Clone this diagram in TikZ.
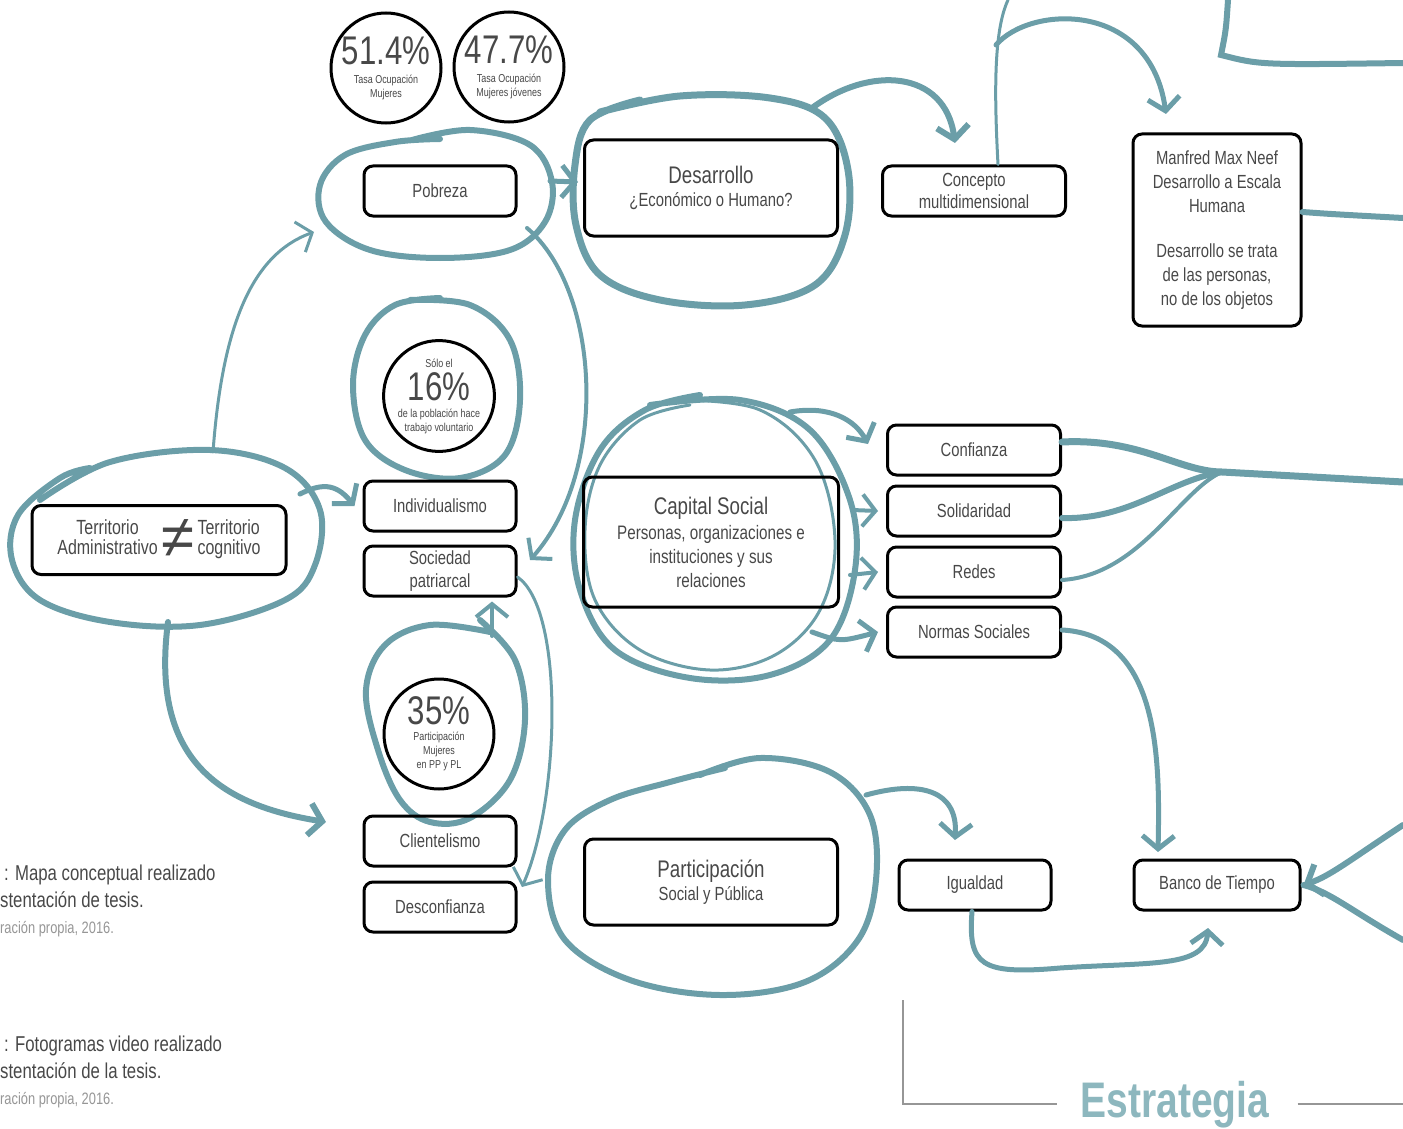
\documentclass[tikz,border=0pt]{standalone}
\usepackage{fontspec}
\setmainfont{Liberation Sans}[FakeStretch=0.78]
\newfontfamily\symfont{Liberation Sans}
\definecolor{mapteal}{RGB}{107,158,168}
\definecolor{mapstrat}{RGB}{141,183,190}
\definecolor{maptext}{RGB}{72,72,72}
\definecolor{mapgray}{RGB}{150,150,150}
\usetikzlibrary{arrows.meta,positioning}
\newcommand\bignum[1]{{\fontsize{40}{42}\selectfont #1}}
\newcommand\boxtitle[1]{{\fontsize{24}{28}\selectfont #1}}

\begin{document}
\begin{tikzpicture}[x=1pt,y=-1pt,
  box/.style={draw=black, line width=3pt, rounded corners=9pt, minimum width=152pt, minimum height=50pt, align=center, text=maptext, font=\fontsize{19}{23}\selectfont, inner sep=1pt},
  bigbox/.style={box, minimum width=253pt, minimum height=96pt},
  stat/.style={draw=black, circle, line width=3pt, minimum size=110pt, inner sep=0pt, align=center, text=maptext, font=\fontsize{11.5}{14}\selectfont},
  loop/.style={draw=mapteal, line width=6pt, line cap=round, line join=round},
  stroke/.style={draw=mapteal, line width=5pt, line cap=round},
  link/.style={stroke, -{Straight Barb[length=13pt,width=32pt]}},
  caption/.style={anchor=base west, text=maptext, font=\fontsize{21.5}{25}\selectfont, inner sep=0pt},
  source/.style={anchor=base west, text=mapgray, font=\fontsize{16.5}{19}\selectfont, inner sep=0pt}]
  \useasboundingbox (0,0) rectangle (1403,1129);

  % Hand drawn loops
  \draw[loop] plot[smooth, tension=0.6] coordinates {(412,140) (470,130) (530,145) (552,182) (545,222) (510,250) (440,258) (370,250) (326,222) (320,185) (345,155) (395,142) (440,139)};
  \draw[loop, line width=7pt] plot[smooth, tension=0.6] coordinates {(600,112) (680,96) (770,98) (825,118) (848,170) (845,235) (815,285) (745,305) (660,300) (600,275) (576,225) (575,165) (590,120) (640,100)};
  \draw[loop] plot[smooth, tension=0.6] coordinates {(40,500) (110,462) (210,450) (285,468) (320,510) (315,565) (285,600) (200,625) (110,622) (40,600) (12,560) (18,515) (60,478) (90,468)};
  \draw[loop] plot[smooth, tension=0.6] coordinates {(410,300) (470,305) (510,340) (520,400) (505,455) (460,478) (405,470) (365,440) (353,385) (365,335) (395,305) (440,298)};
  \draw[loop] plot[smooth, tension=0.6] coordinates {(480,620) (515,660) (525,720) (510,780) (470,818) (430,822) (400,800) (378,750) (366,690) (385,645) (430,625) (490,632)};
  \draw[loop] plot[smooth, tension=0.6] coordinates {(650,405) (740,400) (810,430) (850,500) (855,570) (830,640) (770,675) (690,678) (615,650) (580,590) (575,520) (600,450) (645,410) (700,395)};
  \draw[loop, line width=3pt] plot[smooth, tension=0.6] coordinates {(680,400) (760,410) (815,460) (835,540) (820,610) (775,655) (710,670) (640,650) (595,600) (585,530) (600,465) (640,420) (690,405)};
  \draw[loop] plot[smooth, tension=0.6] coordinates {(700,775) (760,758) (830,772) (870,815) (876,880) (858,940) (805,982) (720,995) (630,980) (565,940) (548,880) (565,830) (610,800) (670,782) (725,768)};

  % Statistics
  \node[stat] (ocupa) at (386,68) {\bignum{51.4\%}\\[5pt]Tasa Ocupación\\Mujeres};
  \node[stat] (jovenes) at (509,67) {\bignum{47.7\%}\\[5pt]Tasa Ocupación\\Mujeres jóvenes};
  \node[stat] (voluntario) at (439,396) {Sólo el\\[4pt]\bignum{16\%}\\[3pt]de la población hace\\trabajo voluntario};
  \node[stat] (participa) at (439,734) {\bignum{35\%}\\[2pt]Participación\\Mujeres\\en PP y PL};

  % Boxes
  \node[box] (pobreza) at (440,191) {Pobreza};
  \node[bigbox] (desarrollo) at (711,188) {\boxtitle{Desarrollo}\\¿Económico o Humano?};
  \node[box, minimum width=183pt, font=\fontsize{19}{22}\selectfont] (concepto) at (974,191) {Concepto\\multidimensional};
  \node[box, minimum width=168pt, minimum height=192pt, font=\fontsize{19}{24}\selectfont] (maxneef) at (1217,230) {Manfred Max Neef\\Desarrollo a Escala\\Humana\\[21pt]Desarrollo se trata\\de las personas,\\no de los objetos};
  \node[box, minimum width=254pt, minimum height=69pt, font=\fontsize{20.5}{18}\selectfont] (territorio) at (159,540) {\begin{tabular}{@{}c@{}}Territorio\\Administrativo\end{tabular}\,\smash{\raisebox{-12pt}{\symfont\fontsize{60}{60}\selectfont ≠}}\,\begin{tabular}{@{}l@{}}Territorio\\cognitivo\end{tabular}};
  \node[box] (individualismo) at (440,506) {Individualismo};
  \node[box] (sociedad) at (440,571) {Sociedad\\patriarcal};
  \node[bigbox, minimum width=255pt, minimum height=130pt, font=\fontsize{19.5}{24}\selectfont] (capital) at (711,542) {\raisebox{-4pt}[\height][\depth]{\begin{tabular}{@{}c@{}}\boxtitle{Capital Social}\\[1pt]Personas, organizaciones e\\instituciones y sus\\relaciones\end{tabular}}};
  \node[box, minimum width=173pt] (confianza) at (974,450) {Confianza};
  \node[box, minimum width=173pt] (solidaridad) at (974,511) {Solidaridad};
  \node[box, minimum width=173pt] (redes) at (974,572) {Redes};
  \node[box, minimum width=173pt] (normas) at (974,632) {Normas Sociales};
  \node[box] (clientelismo) at (440,841) {Clientelismo};
  \node[box] (desconfianza) at (440,907) {Desconfianza};
  \node[bigbox, minimum height=86pt] (participacion) at (711,882) {\boxtitle{Participación}\\Social y Pública};
  \node[box] (igualdad) at (975,885) {Igualdad};
  \node[box, minimum width=166pt] (banco) at (1217,885) {Banco de Tiempo};

  % Points on the loops
  \coordinate (terrN) at (213,452);
  \coordinate (terrE) at (300,494);
  \coordinate (terrS) at (168,622);
  \coordinate (pobW) at (314,232);
  \coordinate (pobSE) at (527,228);
  \coordinate (pobE) at (550,181);
  \coordinate (desW) at (578,182);
  \coordinate (desNE) at (812,108);
  \coordinate (conN) at (955,143);
  \coordinate (topA) at (996,45);
  \coordinate (mnN) at (1166,114);
  \coordinate (hub) at (1222,472);
  \coordinate (capN) at (790,412);
  \coordinate (capE) at (852,510);
  \coordinate (capE2) at (850,575);
  \coordinate (capSE) at (812,632);
  \coordinate (cliW) at (326,822);
  \coordinate (socE) at (530,560);
  \coordinate (desconE) at (522,887);
  \coordinate (c35N) at (492,636);
  \coordinate (parNE) at (866,795);
  \coordinate (igN) at (955,840);
  \coordinate (bancoN) at (1158,852);
  \coordinate (bancoS) at (1208,928);

  % Connectors
  \draw[link, line width=3pt] (terrN) .. controls (222,330) and (250,255) .. (pobW);
  \draw[link] (terrE) .. controls (320,484) and (335,482) .. ([xshift=-8pt]individualismo.west);
  \draw[link, line width=6pt] (terrS) .. controls (150,760) and (220,805) .. (cliW);
  \draw[link, line width=4pt] (pobSE) .. controls (600,290) and (610,470) .. (socE);
  \draw[link] (pobE) -- (desW);
  \draw[link, line width=6pt] (desNE) .. controls (870,65) and (945,70) .. (conN);
  \draw[stroke, line width=3pt] ([xshift=24pt]concepto.north) .. controls (994,90) and (994,30) .. (1008,0);
  \draw[link] (topA) .. controls (1030,5) and (1150,0) .. (mnN);
  \draw[stroke, line width=6pt] (1228,0) .. controls (1226,30) .. (1221,55) .. controls (1260,65) .. (1403,63);
  \draw[stroke, line width=6pt] ([yshift=18pt]maxneef.east) .. controls (1330,214) .. (1403,218);
  \draw[stroke, line width=7pt] ([yshift=8pt]confianza.east) .. controls (1140,438) and (1180,472) .. (hub) -- (1403,482);
  \draw[stroke, line width=6pt] ([yshift=-7pt]solidaridad.east) .. controls (1130,520) and (1170,480) .. (hub);
  \draw[stroke, line width=4pt] ([yshift=-8pt]redes.east) .. controls (1140,575) and (1180,490) .. (hub);
  \draw[link] ([yshift=2pt]normas.east) .. controls (1160,635) and (1160,760) .. (bancoN);
  \draw[link, line width=6pt] (1403,825) .. controls (1350,860) and (1330,876) .. ([xshift=2pt]banco.east);
  \draw[stroke, line width=6pt] (1403,940) .. controls (1350,910) and (1330,892) .. ([xshift=2pt]banco.east);
  \draw[link] ([xshift=-3pt]igualdad.south) .. controls (968,965) and (980,975) .. (1060,968) .. controls (1150,962) and (1205,968) .. (bancoS);
  \draw[link] (parNE) .. controls (920,780) and (958,790) .. (igN);
  \draw[link, line width=4pt] (c35N) -- ([xshift=52pt,yshift=-4pt]sociedad.south);
  \draw[link, line width=3pt] ([yshift=-6pt]sociedad.east) .. controls (565,610) and (560,800) .. (desconE);
  \draw[link] (capN) .. controls (830,405) and (855,420) .. ([xshift=-18pt,yshift=6pt]confianza.west);
  \draw[link, line width=4pt] (capE) -- ([xshift=-8pt]solidaridad.west);
  \draw[link, line width=4pt] (capE2) -- ([xshift=-8pt]redes.west);
  \draw[link] (capSE) .. controls (840,642) .. ([xshift=-8pt]normas.west);

  % Captions
  \node[caption] (capA1) at (4,880) {: Mapa conceptual realizado};
  \node[caption] (capA2) at (0,907) {stentación de tesis.};
  \node[source] (capA3) at (0,933) {ración propia, 2016.};
  \node[caption] (capB1) at (4,1051) {: Fotogramas video realizado};
  \node[caption] (capB2) at (0,1078) {stentación de la tesis.};
  \node[source] (capB3) at (0,1104) {ración propia, 2016.};

  % Strategy label
  \node[anchor=base, text=mapstrat, font=\fontsize{50}{50}\selectfont\bfseries, inner sep=0pt] (estrategia) at (1175,1117) {Estrategia};
  \draw[mapgray, line width=2pt] (903,1000) |- ([xshift=-24pt,yshift=13pt]estrategia.base west);
  \draw[mapgray, line width=2pt] ([xshift=28pt,yshift=13pt]estrategia.base east) -- (1403,1104);
\end{tikzpicture}
\end{document}
